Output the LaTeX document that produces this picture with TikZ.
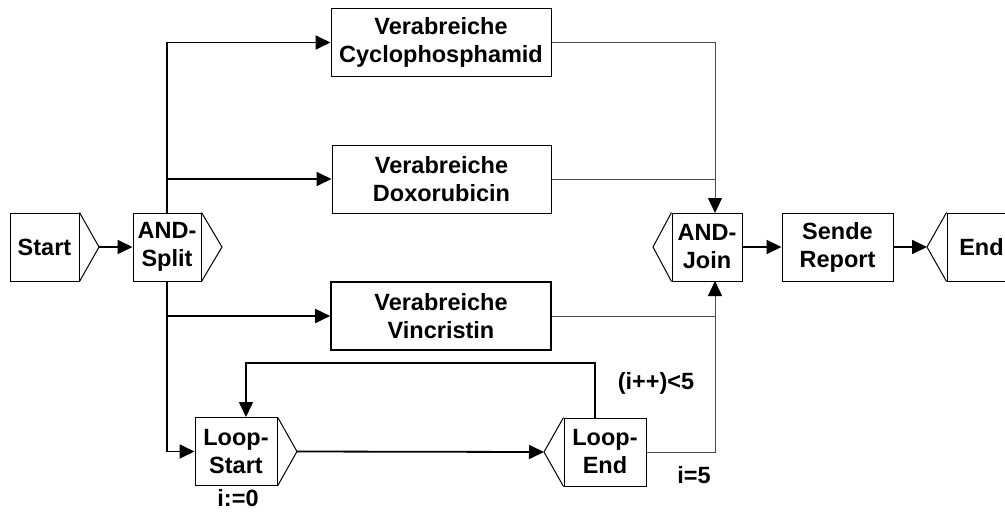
\documentclass[tikz,border=0pt]{standalone}
\usepackage{fontspec}
\setmainfont{Liberation Sans}
\usetikzlibrary{arrows.meta}
\begin{document}
\begin{tikzpicture}[x=1pt,y=-1pt,
  txt/.style={font=\bfseries\fontsize{23.5}{28}\selectfont},
  box/.style={txt,draw=black,line width=1pt,fill=white,minimum height=68pt,
    inner sep=0pt,align=center},
  edge/.style={draw=black,line width=1pt},
  tip/.style={-{Triangle[length=15pt,width=14pt,color=black]}},
  flow/.style={tip,line width=1.8pt},
  thinline/.style={line width=1pt,draw=black!70},
  loopline/.style={tip,line width=1.6pt}]
\useasboundingbox (0,0) rectangle (1005,517);

% start event
\node[box,minimum width=69pt] (start) at (44.5,247) {Start};
\coordinate (startTip) at (99,247);
\draw[edge] (start.north east) -- (startTip) -- (start.south east);

% parallel split
\node[box,minimum width=68pt] (split) at (167,247) {AND-\\Split};
\coordinate (splitTip) at (222,247);
\draw[edge] (split.north east) -- (splitTip) -- (split.south east);

% the three drug activities
\node[box,minimum width=220pt] (cyc) at (441,42.5) {Verabreiche\\Cyclophosphamid};
\node[box,minimum width=219pt] (dox) at (441.5,179) {Verabreiche\\Doxorubicin};
\node[box,minimum width=220pt,line width=1.6pt] (vin) at (441,316) {Verabreiche\\Vincristin};

% parallel join
\node[box,minimum width=70pt] (join) at (707,247) {AND-\\Join};
\coordinate (joinTip) at (653,247);
\draw[edge] (join.north west) -- (joinTip) -- (join.south west);
\coordinate (jtop) at (715,213);
\coordinate (jbot) at (715,281);

% report and end event
\node[box,minimum width=111pt] (send) at (837.5,247) {Sende\\Report};
\node[box,minimum width=69pt] (end) at (981.5,247) {End};
\coordinate (endTip) at (927,247);
\draw[edge] (end.north west) -- (endTip) -- (end.south west);

% loop
\node[box,minimum width=82pt] (ls) at (236,451.5) {Loop-\\Start};
\coordinate (lsTip) at (297,451.5);
\draw[edge] (ls.north east) -- (lsTip) -- (ls.south east);
\node[box,minimum width=82pt] (le) at (605,452) {Loop-\\End};
\coordinate (leTip) at (544,452);
\draw[edge] (le.north west) -- (leTip) -- (le.south west);
\coordinate (leTop) at (595,418);
\coordinate (lsTop) at (246,417);
\coordinate (loopR) at (595,363);
\coordinate (loopL) at (246,363);

% connectors
\draw[flow] (startTip) -- (split.west);
\draw[flow] (split.north) |- (cyc.west);
\draw[flow] (split.north |- dox.west) -- (dox.west);
\draw[flow] (split.south |- vin.west) -- (vin.west);
\draw[flow] (split.south) |- (ls.west);

\draw[thinline,tip] (cyc.east) -| (jtop);
\draw[thinline] (dox.east) -- (dox.east -| jtop);
\draw[thinline,tip] (vin.east) -| (jbot);
\draw[thinline] (le.east) -| (vin.east -| jbot);

\draw[flow] (join.east) -- (send.west);
\draw[flow] (send.east) -- (endTip);

\draw[flow] (lsTip) -- (leTip);
\draw[loopline] (leTop) -- (loopR) -- (loopL) -- (lsTop);

% loop conditions
\node[txt] (init) at (238,498) {i:=0};
\node[txt] (cond) at (656,383) {(i++)<5};
\node[txt] (stop) at (694,475) {i=5};
\end{tikzpicture}
\end{document}
